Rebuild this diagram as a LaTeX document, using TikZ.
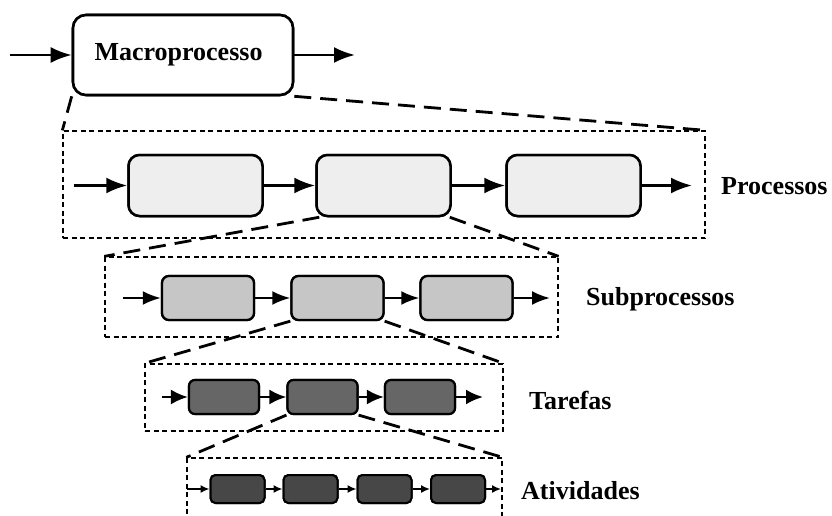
\documentclass[tikz,border=0pt]{standalone}
\usepackage{fontspec}
\setmainfont{Liberation Serif}
\usetikzlibrary{arrows.meta}
\begin{document}
\begin{tikzpicture}[x=1pt,y=-1pt,
  lbl/.style={font=\bfseries\fontsize{26}{30}\selectfont, anchor=west, inner sep=0pt},
  zframe/.style={draw, line width=1.3pt, dash pattern=on 5pt off 3.5pt, inner sep=0pt},
  zoomline/.style={line width=2.8pt, dash pattern=on 17pt off 9pt},
  flow/.style={line width=2.6pt, -{Latex[length=21pt,width=16pt]}},
  flowS/.style={line width=2.4pt, -{Latex[length=18pt,width=14pt]}},
  flowT/.style={line width=2.4pt, -{Latex[length=17pt,width=15pt]}},
  flowA/.style={line width=1.6pt, -{Latex[length=9pt,width=8pt]}},
  macrobox/.style={draw, line width=2.6pt, rounded corners=13pt, minimum width=220pt, minimum height=80pt, inner sep=0pt},
  pbox/.style={draw, line width=2.5pt, rounded corners=11pt, fill=gray!13, minimum width=134pt, minimum height=61pt, inner sep=0pt},
  sbox/.style={draw, line width=2.3pt, rounded corners=7pt, fill=gray!45, minimum width=92pt, minimum height=44pt, inner sep=0pt},
  tbox/.style={draw, line width=2.2pt, rounded corners=6pt, fill=black!60, minimum width=70pt, minimum height=34pt, inner sep=0pt},
  abox/.style={draw, line width=2pt, rounded corners=5pt, fill=black!72, minimum width=54pt, minimum height=28pt, inner sep=0pt},
]
\useasboundingbox (0,0) rectangle (832,516);
\clip (0,0) rectangle (832,516);

% frames of the four levels
\node[zframe, minimum width=642pt, minimum height=107pt] (pf) at (384,184.5) {};
\node[zframe, minimum width=453pt, minimum height=80pt]  (sf) at (331.5,297) {};
\node[zframe, minimum width=358pt, minimum height=67pt]  (tf) at (324,397.5) {};
\node[zframe, minimum width=315pt, minimum height=84pt]  (af) at (344.5,500) {};

% macro process
\node[macrobox] (m) at (183,55) {};
\coordinate (min) at (10,55);
\coordinate (mout) at (355,55);

% processes
\node[pbox] (p1) at (195.5,185.5) {};
\node[pbox] (p2) at (383.5,185.5) {};
\node[pbox] (p3) at (573.5,185.5) {};
\coordinate (pin) at (74,185.5);
\coordinate (pout) at (692,185.5);

% subprocesses
\node[sbox] (s1) at (208,298) {};
\node[sbox] (s2) at (337.5,298) {};
\node[sbox] (s3) at (466.5,298) {};
\coordinate (sin) at (123,298);
\coordinate (sout) at (550,298);

% tasks
\node[tbox] (t1) at (224,397) {};
\node[tbox] (t2) at (322.5,397) {};
\node[tbox] (t3) at (420,397) {};
\coordinate (tin) at (162,397);
\coordinate (tout) at (483,397);

% activities
\node[abox] (a1) at (237.5,489) {};
\node[abox] (a2) at (310.5,489) {};
\node[abox] (a3) at (384.5,489) {};
\node[abox] (a4) at (458,489) {};
\coordinate (ain) at (187,489);
\coordinate (aout) at (501,489);

% zoom lines between levels
\draw[zoomline] (m.south west) -- (pf.north west);
\draw[zoomline] (m.south east) -- (pf.north east);
\draw[zoomline] ([xshift=4pt]p2.south west) -- (sf.north west);
\draw[zoomline] ([xshift=-2pt]p2.south east) -- (sf.north east);
\draw[zoomline] (s2.south west) -- (tf.north west);
\draw[zoomline] (s2.south east) -- (tf.north east);
\draw[zoomline] (t2.south west) -- (af.north west);
\draw[zoomline] (t2.south east) -- (af.north east);

% redraw boxes above the zoom lines
\foreach \n/\s in {p1/pbox,p2/pbox,p3/pbox,s1/sbox,s2/sbox,s3/sbox,t1/tbox,t2/tbox,t3/tbox,a1/abox,a2/abox,a3/abox,a4/abox}
  \node[\s] at (\n) {};
\node[macrobox, fill=white] at (m) {};
\node[lbl, anchor=center] (mt) at (178.5,55) {Macroprocesso};

% flow arrows
\draw[flow] (min) -- (m);
\draw[flow] (m) -- (mout);
\draw[flow] (pin) -- (p1);
\draw[flow] (p1) -- (p2);
\draw[flow] (p2) -- (p3);
\draw[flow] (p3) -- (pout);
\draw[flowS] (sin) -- (s1);
\draw[flowS] (s1) -- (s2);
\draw[flowS] (s2) -- (s3);
\draw[flowS] (s3) -- (sout);
\draw[flowT] (tin) -- (t1);
\draw[flowT] (t1) -- (t2);
\draw[flowT] (t2) -- (t3);
\draw[flowT] (t3) -- (tout);
\draw[flowA] (ain) -- (a1);
\draw[flowA] (a1) -- (a2);
\draw[flowA] (a2) -- (a3);
\draw[flowA] (a3) -- (a4);
\draw[flowA] (a4) -- (aout);

% level names
\node[lbl] (lp) at (721,186) {Processos};
\node[lbl] (ls) at (586,299) {Subprocessos};
\node[lbl] (lt) at (529,400) {Tarefas};
\node[lbl] (la) at (521,491) {Atividades};
\end{tikzpicture}
\end{document}
